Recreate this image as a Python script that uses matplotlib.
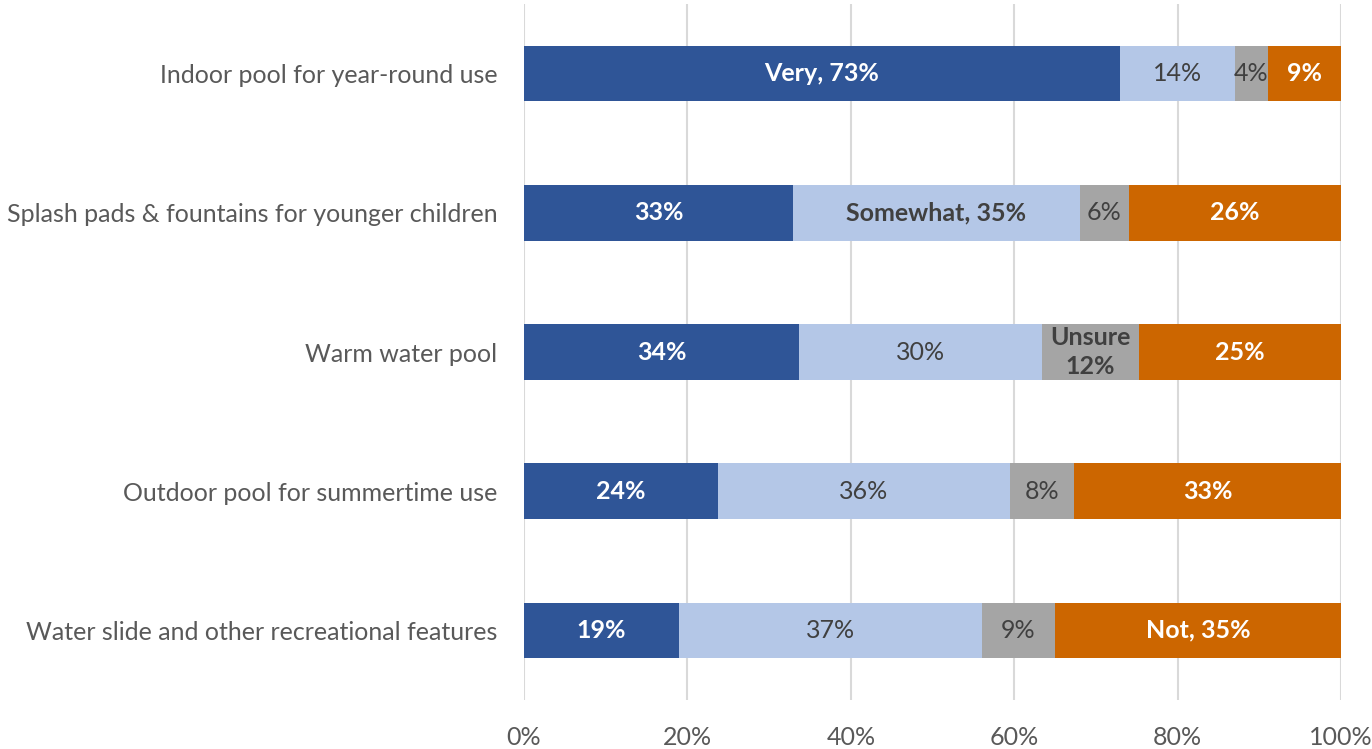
import matplotlib
matplotlib.use("Agg")
import matplotlib.pyplot as plt

plt.rcParams['font.family'] = ['Lato', 'DejaVu Sans']

categories = [
    "Indoor pool for year-round use",
    "Splash pads & fountains for younger children",
    "Warm water pool",
    "Outdoor pool for summertime use",
    "Water slide and other recreational features",
]
very = [72.95, 32.9, 33.7, 23.7, 19.0]
somewhat = [14.05, 35.15, 29.7, 35.8, 37.05]
unsure = [4.1, 6.0, 11.9, 7.8, 8.95]
not_imp = [8.9, 25.95, 24.7, 32.7, 35.0]

very_labels = ["Very, 73%", "33%", "34%", "24%", "19%"]
somewhat_labels = ["14%", "Somewhat, 35%", "30%", "36%", "37%"]
unsure_labels = ["4%", "6%", "Unsure\n12%", "8%", "9%"]
not_labels = ["9%", "26%", "25%", "33%", "Not, 35%"]

tick_vals = [0, 20, 40, 60, 80, 100]
tick_labels = ["0%", "20%", "40%", "60%", "80%", "100%"]

series = [
    (very, very_labels, "#2F5597", "white", [True] * 5),
    (somewhat, somewhat_labels, "#B4C7E7", "#404040", [False, True, False, False, False]),
    (unsure, unsure_labels, "#A5A5A5", "#404040", [False, False, True, False, False]),
    (not_imp, not_labels, "#CC6600", "white", [True] * 5),
]

fig = plt.figure(figsize=(13.72, 7.49), dpi=100)
ax = fig.add_axes([524 / 1372, 1 - 700 / 749, (1341 - 524) / 1372, 696 / 749])

y = list(range(len(categories)))
left = [0.0] * len(categories)
for vals, labels, color, tcolor, bolds in series:
    bars = ax.barh(y, vals, left=left, height=0.4, color=color, edgecolor='none', zorder=3)
    for i, (b, lab) in enumerate(zip(bars, labels)):
        cx = b.get_x() + b.get_width() / 2
        ax.text(cx, i, lab, ha='center', va='center', color=tcolor,
                fontsize=18, fontweight='bold' if bolds[i] else 'normal',
                linespacing=1.35, zorder=4)
    left = [l + v for l, v in zip(left, vals)]

ax.set_ylim(len(categories) - 0.5, -0.5)
ax.set_xlim(0, 100)
ax.set_yticks(y)
ax.set_yticklabels(categories, fontsize=18, color='#595959')
ax.set_xticks(tick_vals)
ax.set_xticklabels(tick_labels, fontsize=18, color='#595959')
ax.tick_params(axis='y', length=0, pad=19)
ax.tick_params(axis='x', length=0, pad=19)
ax.grid(axis='x', color='#D9D9D9', linewidth=1.5, zorder=0)
for s in ax.spines.values():
    s.set_visible(False)

fig.savefig("out.png", dpi=100, facecolor='white')
